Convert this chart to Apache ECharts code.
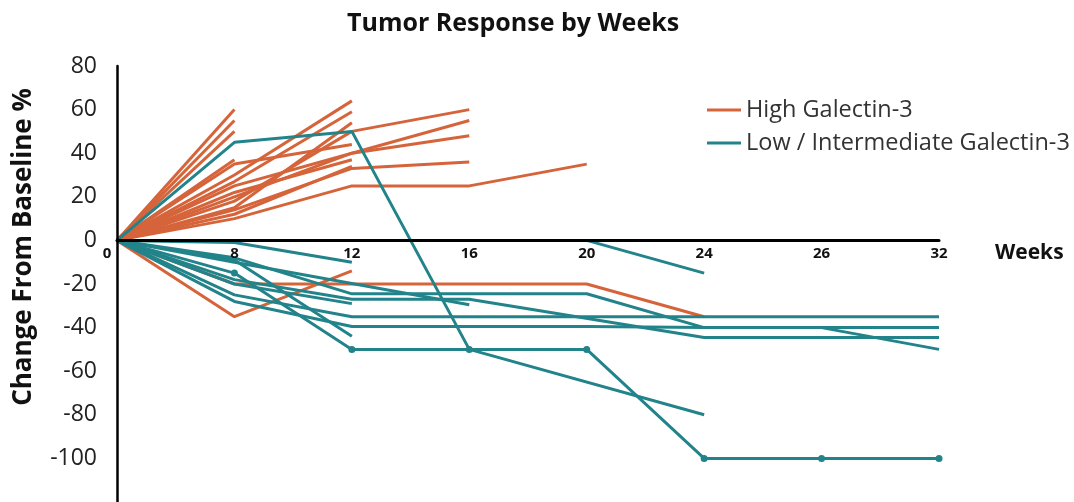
<!DOCTYPE html>
<html>
<head>
<meta charset="utf-8">
<script src="https://cdn.jsdelivr.net/npm/echarts@6/dist/echarts.min.js"></script>
<style>
  html, body { margin: 0; padding: 0; background: #fff; }
  #chart { width: 1074px; height: 502px; }
</style>
</head>
<body>
<div id="chart"></div>
<script>
// x 轴周数（类目轴，等距）
const weeks = ['0', '8', '12', '16', '20', '24', '26', '32'];

// High Galectin-3 患者曲线
const highGalectin = [
  [0, 60],
  [0, 55],
  [0, 50],
  [0, 37],
  [0, 30, 64],
  [0, 27, 59],
  [0, 15, 54],
  [0, 35, 44],
  [0, 20, 40, 55],
  [0, 25, 40, 48],
  [0, 22, 37],
  [0, 12, 34],
  [0, 18, 50, 60],
  [0, 14, 33, 36],
  [0, 10, 25, 25, 35],
  [0, -35, -14],
  [0, -20, -20, -20, -20, -35]
];

// Low / Intermediate Galectin-3 患者曲线（null 表示该周无点，直线连过去）
const lowGalectin = [
  [0, -1, -10],
  [null, null, null, null, 0, -15],
  [0, 45, 50, -50, null, -80],
  [0, -10, null, -29.5],
  [0, -8, -24.5, -24.5, -24.5, -40, -40, -50],
  [0, -18, -27, -27, null, -44.5, -44.5, -44.5],
  [0, -20, -29],
  [0, -25, -35, -35, -35, -35, -35, -35],
  [0, -28, -39.5, -39.5, -39.5, -40, -40, -40],
  [0, -9, -44]
];

// 带圆点标记的那条
const lowGalectinMarked = [0, -15, -50, -50, -50, -100, -100, -100];

const yTicks = { min: -120, max: 80, step: 20 };

const ORANGE = '#d6643b';
const TEAL = '#22848a';
const HIGH = 'High Galectin-3';
const LOW = 'Low / Intermediate Galectin-3';
const FONT = '"Open Sans", "Noto Sans", sans-serif';

const GRID_TOP = 66;
const GRID_H = 436;
// 0 线距离 grid 底部的像素（x 轴上移到 0 处）
const zeroOffset = GRID_H * (0 - yTicks.min) / (yTicks.max - yTicks.min);

const lineSeries = (name, data, color) => ({
  name,
  type: 'line',
  data,
  symbol: 'none',
  connectNulls: true,
  lineStyle: { color, width: 3 },
  itemStyle: { color },
  emphasis: { disabled: true }
});

const series = [];
highGalectin.forEach((d) => series.push(lineSeries(HIGH, d, ORANGE)));
lowGalectin.forEach((d) => series.push(lineSeries(LOW, d, TEAL)));
series.push({
  ...lineSeries(LOW, lowGalectinMarked.map((v, i) => (i === 0 ? { value: v, symbol: 'none' } : v)), TEAL),
  symbol: 'circle',
  symbolSize: 7,
  showSymbol: true
});

const chart = echarts.init(document.getElementById('chart'));
chart.setOption({
  animation: false,
  textStyle: { fontFamily: FONT },
  title: {
    text: 'Tumor Response by Weeks',
    left: 342,
    top: 6,
    textStyle: { fontSize: 25, fontWeight: 'bold', color: '#111', fontFamily: FONT }
  },
  legend: {
    data: [HIGH, LOW],
    orient: 'vertical',
    left: 702,
    top: 93,
    itemGap: 9,
    itemWidth: 34,
    itemHeight: 3,
    icon: 'rect',
    textStyle: { fontSize: 23.5, color: '#333', fontFamily: FONT }
  },
  grid: { left: 117, right: 135, top: GRID_TOP, height: GRID_H, outerBoundsMode: 'none', containLabel: false },
  xAxis: {
    type: 'category',
    data: weeks,
    boundaryGap: false,
    position: 'bottom',
    offset: -zeroOffset,
    z: 10,
    name: 'Weeks',
    nameLocation: 'end',
    nameGap: 56,
    nameTextStyle: { fontSize: 21, fontWeight: 'bold', color: '#111', verticalAlign: 'top', padding: [2, 0, 0, 0] },
    axisLine: { onZero: false, lineStyle: { color: '#000', width: 3 } },
    axisTick: { show: false },
    axisLabel: {
      fontSize: 15,
      fontWeight: 'bold',
      color: '#111',
      margin: 6,
      fontFamily: FONT,
      // 原图的 0 标签略偏左
      formatter: (v, i) => (i === 0 ? '{first|' + v + '}' : v),
      rich: { first: { fontSize: 15, fontWeight: 'bold', color: '#111', padding: [0, 20, 0, 0] } }
    },
    splitLine: { show: false }
  },
  yAxis: {
    type: 'value',
    min: yTicks.min,
    max: yTicks.max,
    interval: yTicks.step,
    z: 10,
    name: 'Change From Baseline %',
    nameLocation: 'middle',
    nameGap: 80,
    nameTextStyle: { fontSize: 26, fontWeight: 'bold', color: '#111', padding: [0, 0, 0, 74] },
    axisLine: { show: true, lineStyle: { color: '#000', width: 2.5 } },
    axisTick: { show: false },
    splitLine: { show: false },
    axisLabel: {
      fontSize: 23,
      color: '#222',
      margin: 20,
      formatter: (v) => (v === yTicks.min ? '' : String(v))
    }
  },
  series
});
</script>
</body>
</html>
